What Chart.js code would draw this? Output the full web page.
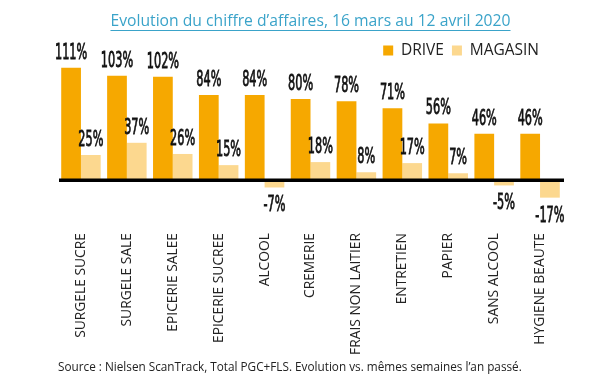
<!DOCTYPE html>
<html>
<head>
<meta charset="utf-8">
<script src="https://cdn.jsdelivr.net/npm/chart.js@4.4.1/dist/chart.umd.min.js"></script>
<style>
html,body{margin:0;padding:0;background:#fff;}
#wrap{width:606px;height:378px;}
</style>
</head>
<body>
<div id="wrap"><canvas id="c" width="606" height="378"></canvas></div>
<script>
const categories = ['SURGELE SUCRE','SURGELE SALE','EPICERIE SALEE','EPICERIE SUCREE','ALCOOL','CREMERIE','FRAIS NON LAITIER','ENTRETIEN','PAPIER','SANS ALCOOL','HYGIENE BEAUTE'];
const driveValues = [111,103,102,84,84,80,78,71,56,46,46];
const magasinValues = [25,37,26,15,-7,18,8,17,7,-5,-17];
const seriesNames = ['DRIVE','MAGASIN'];
const titleText = 'Evolution du chiffre d\u2019affaires, 16 mars au 12 avril 2020';
const sourceText = 'Source : Nielsen ScanTrack, Total PGC+FLS. Evolution vs. m\u00eames semaines l\u2019an pass\u00e9.';

const DRIVE_COLOR = '#F6A800';
const MAGASIN_COLOR = '#FCD88F';
const TITLE_COLOR = '#3AA3C9';
const TITLE_FONT_SIZE = 15.7;

const valueLabels = {
  id: 'valueLabels',
  afterDatasetsDraw(chart) {
    const ctx = chart.ctx;
    ctx.save();
    ctx.fillStyle = '#111';
    ctx.strokeStyle = '#111';
    ctx.lineWidth = 0.8;
    ctx.font = '22px "Liberation Sans Narrow", "DejaVu Sans Condensed", sans-serif';
    ctx.textAlign = 'center';
    ctx.textBaseline = 'alphabetic';
    chart.data.datasets.forEach((ds, di) => {
      const meta = chart.getDatasetMeta(di);
      meta.data.forEach((bar, i) => {
        const v = ds.data[i];
        const txt = v + '%';
        ctx.save();
        if (v >= 0) {
          ctx.translate(bar.x, bar.y - 9);
        } else {
          ctx.translate(bar.x, bar.y + 24);
        }
        ctx.scale(0.57, 1);
        ctx.fillText(txt, 0, 0);
        ctx.strokeText(txt, 0, 0);
        ctx.restore();
      });
    });
    ctx.restore();
  }
};

const zeroLine = {
  id: 'zeroLine',
  afterDatasetsDraw(chart) {
    const y = chart.scales.y.getPixelForValue(0);
    const a = chart.chartArea;
    const ctx = chart.ctx;
    ctx.save();
    ctx.strokeStyle = '#000';
    ctx.lineWidth = 3.5;
    ctx.beginPath();
    ctx.moveTo(a.left + 1, y);
    ctx.lineTo(a.right + 1, y);
    ctx.stroke();
    ctx.restore();
  }
};

const titleUnderline = {
  id: 'titleUnderline',
  afterDraw(chart) {
    const tb = chart.titleBlock;
    if (!tb) return;
    const ctx = chart.ctx;
    ctx.save();
    ctx.font = TITLE_FONT_SIZE + 'px "Open Sans", sans-serif';
    const w = ctx.measureText(titleText).width;
    const cx = tb.left + tb.width / 2;
    const y = tb.top + tb.height - tb.options.padding.bottom - 1;
    ctx.strokeStyle = TITLE_COLOR;
    ctx.lineWidth = 1;
    ctx.beginPath();
    ctx.moveTo(cx - w / 2, Math.round(y) + 0.5);
    ctx.lineTo(cx + w / 2, Math.round(y) + 0.5);
    ctx.stroke();
    ctx.restore();
  }
};

const legendShift = {
  id: 'legendShift',
  afterLayout(chart) {
    if (chart.legend) {
      chart.legend.left -= 16;
      chart.legend.right -= 16;
    }
  }
};

new Chart(document.getElementById('c'), {
  type: 'bar',
  data: {
    labels: categories,
    datasets: [
      { label: seriesNames[0], data: driveValues, backgroundColor: DRIVE_COLOR, barPercentage: 1.0, categoryPercentage: 0.86, clip: false },
      { label: seriesNames[1], data: magasinValues, backgroundColor: MAGASIN_COLOR, barPercentage: 1.0, categoryPercentage: 0.86, clip: false }
    ]
  },
  options: {
    responsive: false,
    animation: false,
    devicePixelRatio: 1,
    layout: { padding: { left: 58, right: 43, top: 8, bottom: 3 } },
    plugins: {
      title: {
        display: true,
        text: titleText,
        color: TITLE_COLOR,
        font: { family: '"Open Sans", sans-serif', size: TITLE_FONT_SIZE, weight: 'normal' },
        padding: { top: 4, bottom: 4 }
      },
      subtitle: {
        display: true,
        text: sourceText,
        position: 'bottom',
        align: 'start',
        color: '#222',
        font: { family: '"Open Sans", sans-serif', size: 11.75, weight: 'normal' },
        padding: { top: 4, bottom: 0 }
      },
      legend: {
        position: 'top',
        align: 'end',
        labels: {
          boxWidth: 10,
          boxHeight: 10,
          padding: 8,
          color: '#222',
          font: { family: '"Open Sans", sans-serif', size: 15.5 }
        }
      },
      tooltip: { enabled: false }
    },
    scales: {
      x: {
        grid: { display: false },
        border: { display: false },
        ticks: {
          minRotation: 90,
          maxRotation: 90,
          autoSkip: false,
          padding: 2,
          color: '#222',
          font: { family: '"Open Sans", sans-serif', size: 13.8 }
        }
      },
      y: {
        display: false,
        min: -42,
        max: 110.3
      }
    }
  },
  plugins: [valueLabels, zeroLine, titleUnderline, legendShift]
});
</script>
</body>
</html>
